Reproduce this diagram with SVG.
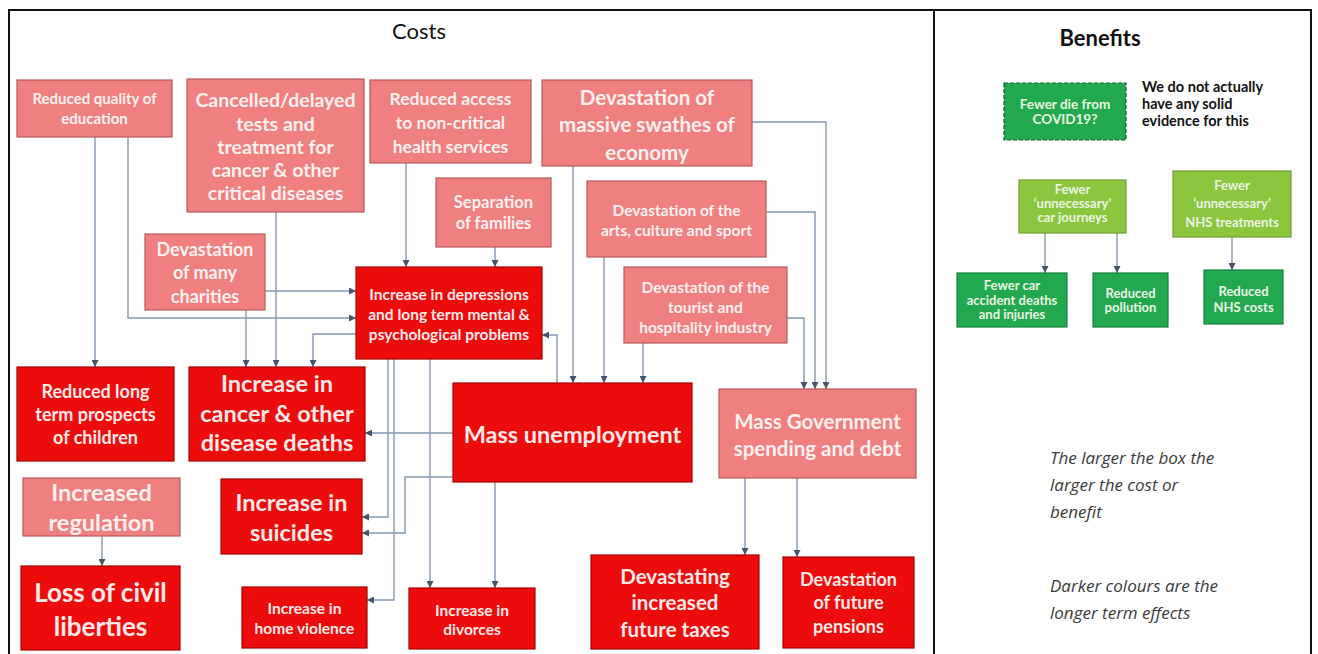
<svg xmlns="http://www.w3.org/2000/svg" width="1318" height="654" viewBox="0 0 1318 654">
<defs>
<marker id="ah" viewBox="0 0 10 10" refX="10" refY="5" markerWidth="7" markerHeight="7" orient="auto" markerUnits="userSpaceOnUse">
<path d="M0,0 L10,5 L0,10 z" fill="#44546A"/>
</marker>
</defs>
<style>
text{font-family:Lato,"Liberation Sans",sans-serif;}
.lt rect{fill:#F08080;stroke:#B55A5A;stroke-width:1.2;}
.dk rect{fill:#EC0C0C;stroke:#A80000;stroke-width:1.2;}
.lt text{fill:#FFF0F0;font-weight:bold;text-anchor:middle;}
.dk text{fill:#FFE8E8;font-weight:bold;text-anchor:middle;}
.gd rect{fill:#22A94F;stroke:#17803A;stroke-width:1.2;}
.gl rect{fill:#8CC63F;stroke:#6E9E2E;stroke-width:1.2;}
.gd text,.gl text{fill:#EAF6E4;font-weight:bold;text-anchor:middle;}
.dash rect{stroke-dasharray:4 2;stroke:#115E2B;}
.frame{stroke:#111;stroke-width:2;fill:none;}
.hd{fill:#111;text-anchor:middle;}
.note{fill:#3A3A3A;font-family:"Open Sans",Lato,sans-serif;font-style:italic;font-size:17px;}
#connectors path{fill:none;stroke:#8497B0;stroke-width:1.4;marker-end:url(#ah);}
</style>

<g id="frame">
<path class="frame" d="M9,660 V10 H1311 V660 M934,10 V660"/>
<text class="hd" x="419" y="39" font-size="22">Costs</text>
<text class="hd" x="1100" y="46" font-size="22" font-weight="bold">Benefits</text>
</g>

<g id="connectors">
<path d="M95,137 V367"/>
<path d="M128,137 V318 H356"/>
<path d="M265,291 H356"/>
<path d="M246,310 V367"/>
<path d="M276,212 V367"/>
<path d="M356,334 H313 V367"/>
<path d="M406,163 V267"/>
<path d="M495,247 V267"/>
<path d="M557,383 V335 H542"/>
<path d="M573,166 V383"/>
<path d="M604,257 V383"/>
<path d="M643,343 V383"/>
<path d="M752,122 H826 V389"/>
<path d="M766,212 H815 V389"/>
<path d="M787,318 H804 V389"/>
<path d="M453,433 H365"/>
<path d="M453,477 H405 V533 H362"/>
<path d="M388,359 V517 H362"/>
<path d="M394,359 V600 H367"/>
<path d="M430,359 V588"/>
<path d="M495,482 V588"/>
<path d="M102,536 V566"/>
<path d="M745,478 V555"/>
<path d="M797,478 V557"/>
<path d="M1045,233 V273"/>
<path d="M1117,233 V273"/>
<path d="M1232,237 V270"/>
</g>

<g id="n-quality-education" class="lt">
<rect x="17" y="80" width="155" height="57"/>
<text font-size="15"><tspan x="94.5" y="104">Reduced quality of</tspan><tspan x="94.5" y="124">education</tspan></text>
</g>
<g id="n-cancelled-tests" class="lt">
<rect x="187" y="79" width="177" height="133"/>
<text font-size="19.5"><tspan x="275.5" y="107">Cancelled/delayed</tspan><tspan x="275.5" y="131">tests and</tspan><tspan x="275.5" y="154">treatment for</tspan><tspan x="275.5" y="177">cancer &amp; other</tspan><tspan x="275.5" y="200">critical diseases</tspan></text>
</g>
<g id="n-reduced-access" class="lt">
<rect x="370" y="80" width="161" height="83"/>
<text font-size="17.5"><tspan x="450.5" y="105">Reduced access</tspan><tspan x="450.5" y="129">to non-critical</tspan><tspan x="450.5" y="153">health services</tspan></text>
</g>
<g id="n-economy" class="lt">
<rect x="542" y="80" width="210" height="86"/>
<text font-size="20.5"><tspan x="647" y="105">Devastation of</tspan><tspan x="647" y="132">massive swathes of</tspan><tspan x="647" y="160">economy</tspan></text>
</g>
<g id="n-separation" class="lt">
<rect x="436" y="178" width="115" height="69"/>
<text font-size="16.5"><tspan x="493.5" y="208">Separation</tspan><tspan x="493.5" y="229">of families</tspan></text>
</g>
<g id="n-arts" class="lt">
<rect x="587" y="181" width="179" height="76"/>
<text font-size="15.5"><tspan x="676.5" y="215.5">Devastation of the</tspan><tspan x="676.5" y="235.5">arts, culture and sport</tspan></text>
</g>
<g id="n-tourist" class="lt">
<rect x="624" y="267" width="163" height="76"/>
<text font-size="15.5"><tspan x="705.5" y="292.5">Devastation of the</tspan><tspan x="705.5" y="312.5">tourist and</tspan><tspan x="705.5" y="332.5">hospitality industry</tspan></text>
</g>
<g id="n-charities" class="lt">
<rect x="145" y="234" width="120" height="76"/>
<text font-size="18"><tspan x="205" y="256">Devastation</tspan><tspan x="205" y="279">of many</tspan><tspan x="205" y="303">charities</tspan></text>
</g>
<g id="n-depression" class="dk">
<rect x="356" y="267" width="186" height="92"/>
<text font-size="15.5"><tspan x="449" y="299.5">Increase in depressions</tspan><tspan x="449" y="319.5">and long term mental &amp;</tspan><tspan x="449" y="339.5">psychological problems</tspan></text>
</g>
<g id="n-prospects" class="dk">
<rect x="17" y="367" width="157" height="94"/>
<text font-size="18"><tspan x="95.5" y="398">Reduced long</tspan><tspan x="95.5" y="421">term prospects</tspan><tspan x="95.5" y="444">of children</tspan></text>
</g>
<g id="n-cancer-deaths" class="dk">
<rect x="189" y="367" width="176" height="94"/>
<text font-size="23.5"><tspan x="277" y="392">Increase in</tspan><tspan x="277" y="422">cancer &amp; other</tspan><tspan x="277" y="451">disease deaths</tspan></text>
</g>
<g id="n-unemployment" class="dk">
<rect x="453" y="383" width="239" height="99"/>
<text font-size="23.5"><tspan x="572.5" y="443">Mass unemployment</tspan></text>
</g>
<g id="n-government" class="lt">
<rect x="719" y="389" width="197" height="89"/>
<text font-size="20.5"><tspan x="817.5" y="429">Mass Government</tspan><tspan x="817.5" y="456">spending and debt</tspan></text>
</g>
<g id="n-regulation" class="lt">
<rect x="23" y="478" width="157" height="58"/>
<text font-size="23.5"><tspan x="101.5" y="501">Increased</tspan><tspan x="101.5" y="531">regulation</tspan></text>
</g>
<g id="n-liberties" class="dk">
<rect x="21" y="566" width="159" height="84"/>
<text font-size="26"><tspan x="100.5" y="602">Loss of civil</tspan><tspan x="100.5" y="636">liberties</tspan></text>
</g>
<g id="n-suicides" class="dk">
<rect x="221" y="479" width="141" height="75"/>
<text font-size="23.5"><tspan x="291.5" y="511">Increase in</tspan><tspan x="291.5" y="541">suicides</tspan></text>
</g>
<g id="n-home-violence" class="dk">
<rect x="242" y="587" width="125" height="61"/>
<text font-size="15.5"><tspan x="304.5" y="614">Increase in</tspan><tspan x="304.5" y="634">home violence</tspan></text>
</g>
<g id="n-divorces" class="dk">
<rect x="409" y="588" width="126" height="61"/>
<text font-size="15.5"><tspan x="472" y="616">Increase in</tspan><tspan x="472" y="635">divorces</tspan></text>
</g>
<g id="n-taxes" class="dk">
<rect x="591" y="555" width="168" height="94"/>
<text font-size="20.5"><tspan x="675" y="584">Devastating</tspan><tspan x="675" y="610">increased</tspan><tspan x="675" y="637">future taxes</tspan></text>
</g>
<g id="n-pensions" class="dk">
<rect x="783" y="557" width="131" height="91"/>
<text font-size="18"><tspan x="848.5" y="586">Devastation</tspan><tspan x="848.5" y="609">of future</tspan><tspan x="848.5" y="633">pensions</tspan></text>
</g>

<g id="b-covid" class="gd dash">
<rect x="1004" y="83" width="122" height="57"/>
<text font-size="13.5"><tspan x="1065" y="108.5">Fewer die from</tspan><tspan x="1065" y="123.5">COVID19?</tspan></text>
</g>
<g id="b-note">
<text font-size="14.5" font-weight="bold" fill="#111"><tspan x="1142" y="92">We do not actually</tspan><tspan x="1142" y="109">have any solid</tspan><tspan x="1142" y="126">evidence for this</tspan></text>
</g>
<g id="b-car-journeys" class="gl">
<rect x="1019" y="180" width="107" height="53"/>
<text font-size="13"><tspan x="1072.5" y="193.5">Fewer</tspan><tspan x="1072.5" y="207.5">‘unnecessary’</tspan><tspan x="1072.5" y="221.5">car journeys</tspan></text>
</g>
<g id="b-nhs-treatments" class="gl">
<rect x="1173" y="171" width="118" height="66"/>
<text font-size="13"><tspan x="1232" y="189.5">Fewer</tspan><tspan x="1232" y="207.5">‘unnecessary’</tspan><tspan x="1232" y="226.5">NHS treatments</tspan></text>
</g>
<g id="b-accidents" class="gd">
<rect x="957" y="273" width="110" height="54"/>
<text font-size="13"><tspan x="1012" y="289.5">Fewer car</tspan><tspan x="1012" y="304.5">accident deaths</tspan><tspan x="1012" y="318.5">and injuries</tspan></text>
</g>
<g id="b-pollution" class="gd">
<rect x="1093" y="273" width="75" height="54"/>
<text font-size="13"><tspan x="1130.5" y="297.5">Reduced</tspan><tspan x="1130.5" y="311.5">pollution</tspan></text>
</g>
<g id="b-nhs-costs" class="gd">
<rect x="1204" y="270" width="79" height="54"/>
<text font-size="13"><tspan x="1243.5" y="295.5">Reduced</tspan><tspan x="1243.5" y="311.5">NHS costs</tspan></text>
</g>

<g id="legend">
<text class="note"><tspan x="1050" y="464">The larger the box the</tspan><tspan x="1050" y="491">larger the cost or</tspan><tspan x="1050" y="518">benefit</tspan></text>
<text class="note"><tspan x="1050" y="592">Darker colours are the</tspan><tspan x="1050" y="619">longer term effects</tspan></text>
</g>
</svg>
